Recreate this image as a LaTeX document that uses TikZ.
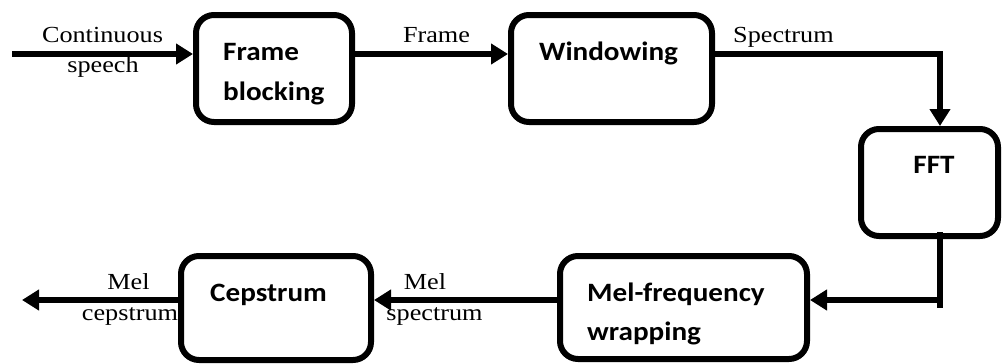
\documentclass[tikz,border=0pt]{standalone}
\usepackage{fontspec}
\setmainfont{Liberation Serif}[FakeStretch=1.14]
\newfontfamily\boxfont{Carlito}[FakeStretch=1.1]
\usetikzlibrary{arrows.meta}
\tikzset{
  box/.style={draw, line width=6pt, rounded corners=18pt, inner sep=0pt},
  boxtxt/.style={inner sep=0pt, font=\boxfont\bfseries\fontsize{26.5}{30}\selectfont},
  lbl/.style={inner sep=0pt, font=\fontsize{23}{27}\selectfont},
  conn/.style={line width=6pt},
  arr/.style={line width=6pt, -{Triangle[length=17pt,width=20pt]}},
}
\begin{document}
\begin{tikzpicture}[x=1pt,y=-1pt]
\useasboundingbox (0,0) rectangle (1002,364);
% boxes
\node[box, minimum width=156pt, minimum height=107pt] (fb) at (274,68.5) {};
\node[box, minimum width=201pt, minimum height=107pt] (win) at (611.5,68.5) {};
\node[box, minimum width=137pt, minimum height=107pt] (fft) at (929.5,182.5) {};
\node[box, minimum width=247pt, minimum height=103pt] (mel) at (683.5,307.5) {};
\node[box, minimum width=190pt, minimum height=104pt] (cep) at (276,308) {};
% box texts
\node[boxtxt, anchor=base west] (fbt1) at (223,60) {Frame};
\node[boxtxt, anchor=base west] (fbt2) at (223,100) {blocking};
\node[boxtxt, anchor=base] (wint) at (608.5,60) {Windowing};
\node[boxtxt, anchor=base] (fftt) at (934,173) {FFT};
\node[boxtxt, anchor=base west] (melt1) at (587,301) {Mel-frequency};
\node[boxtxt, anchor=base west] (melt2) at (587,340) {wrapping};
\node[boxtxt, anchor=base west] (cept) at (210,301) {Cepstrum};
% coordinates
\coordinate (in) at (12,54);
\coordinate (c1) at (940,54);
\coordinate (c2) at (940,300);
\coordinate (c3) at (940,308);
\coordinate (out) at (22,300);
% connectors
\draw[arr] (in) -- (fb.west |- in);
\draw[arr] (fb.east |- in) -- (win.west |- in);
\draw[arr] (win.east |- c1) -- (c1) -- (fft.north -| c1);
\draw[conn] ([yshift=7pt]fft.south -| c2) -- (c3);
\draw[arr] (c2) -- (mel.east |- c2);
\draw[arr] (mel.west |- c2) -- (cep.east |- c2);
\draw[arr] (cep.west |- out) -- (out);
% labels
\node[lbl, anchor=base] (l1) at (102.5,42) {Continuous};
\node[lbl, anchor=base] (l2) at (103,72) {speech};
\node[lbl, anchor=base] (l3) at (436.5,42) {Frame};
\node[lbl, anchor=base west] (l4) at (733,42) {Spectrum};
\node[lbl, anchor=base] (l5) at (425,289) {Mel};
\node[lbl, anchor=base] (l6) at (434.5,320) {spectrum};
\node[lbl, anchor=base] (l7) at (128.5,289) {Mel};
\node[lbl, anchor=base] (l8) at (130,320) {cepstrum};
\end{tikzpicture}
\end{document}
